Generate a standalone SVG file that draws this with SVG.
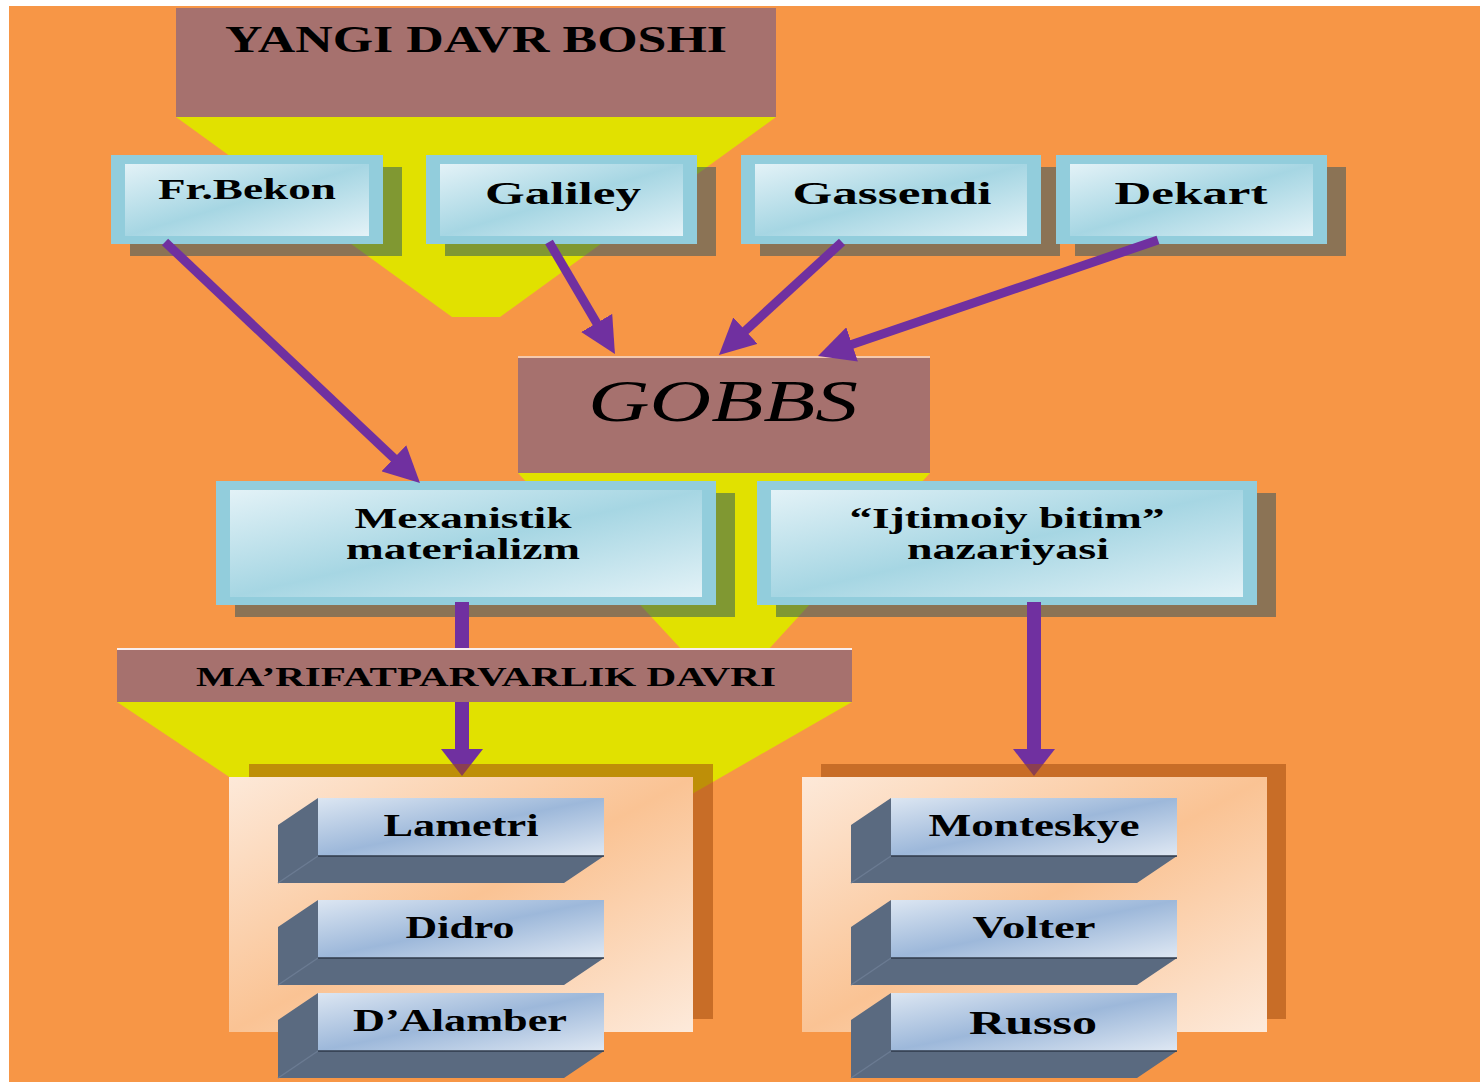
<svg xmlns="http://www.w3.org/2000/svg" width="1480" height="1082" viewBox="0 0 1480 1082">
<defs>
<style>
.t{font-family:"Liberation Serif","Times New Roman",serif;font-weight:bold;fill:#000;text-anchor:middle}
.brown{fill:#A6716E}
.yellow{fill:#E1E100}
.frame{fill:#92CDDC}
.inner{fill:url(#gBlue)}
.bshadow{fill:#1F5064;fill-opacity:.5}
.pshadow{fill:#A24D0F;fill-opacity:.55}
.panel{fill:url(#gPeach)}
.conn{stroke:#7030A0;fill:none}
</style>
<linearGradient id="gBlue" x1="0" y1="0" x2="1" y2="1">
<stop offset="0" stop-color="#E3F2F7"/><stop offset="0.5" stop-color="#A6D6E3"/><stop offset="1" stop-color="#E3F2F7"/>
</linearGradient>
<linearGradient id="gPeach" x1="0" y1="0" x2="1" y2="1">
<stop offset="0" stop-color="#FDE9D9"/><stop offset="0.5" stop-color="#FAC394"/><stop offset="1" stop-color="#FDEADB"/>
</linearGradient>
<linearGradient id="gFront" x1="0" y1="0" x2="1" y2="1">
<stop offset="0" stop-color="#DCE6F2"/><stop offset="0.5" stop-color="#9DB8DA"/><stop offset="1" stop-color="#DFE8F3"/>
</linearGradient>
<marker id="headD" viewBox="0 0 36 36" refX="2" refY="18" markerWidth="36" markerHeight="36" markerUnits="userSpaceOnUse" orient="auto">
<path d="M0,0 L36,18 L0,36 z" fill="#7030A0"/>
</marker>
<marker id="headV" viewBox="0 0 27 42" refX="2" refY="21" markerWidth="27" markerHeight="42" markerUnits="userSpaceOnUse" orient="auto">
<path d="M0,0 L27,21 L0,42 z" fill="#7030A0"/>
</marker>
<g id="bar3d">
<polygon points="0,0 -40,27 -40,85 246,85 286,58 0,58" fill="#5A6A80"/>
<line x1="0" y1="58" x2="-40" y2="85" stroke="#6B7B92" stroke-width="1.5"/>
<rect x="0" y="0" width="286" height="58" fill="url(#gFront)"/>
<line x1="0" y1="58" x2="286" y2="58" stroke="#2F3A4A" stroke-width="1.5"/>
</g>
</defs>

<rect x="0" y="0" width="1480" height="1082" fill="#FFFFFF"/>
<rect x="9" y="6" width="1471" height="1076" fill="#F79646"/>

<g id="yangi-davr-boshi">
<polygon class="yellow" points="176,117 776,117 500,317 452,317"/>
<rect class="brown" x="176" y="8" width="600" height="109"/>
<text class="t" x="476" y="52" font-size="37" textLength="502" lengthAdjust="spacingAndGlyphs">YANGI DAVR BOSHI</text>
</g>

<g id="fr-bekon">
<rect class="bshadow" x="130" y="167" width="272" height="89"/>
<rect class="frame" x="111" y="155" width="272" height="89"/>
<rect class="inner" x="125" y="164" width="244" height="72"/>
<text class="t" x="247" y="199" font-size="30" textLength="178" lengthAdjust="spacingAndGlyphs">Fr.Bekon</text>
</g>

<g id="galiley">
<rect class="bshadow" x="445" y="167" width="271" height="89"/>
<rect class="frame" x="426" y="155" width="271" height="89"/>
<rect class="inner" x="440" y="164" width="243" height="72"/>
<text class="t" x="563" y="204" font-size="32" textLength="156" lengthAdjust="spacingAndGlyphs">Galiley</text>
</g>

<g id="gassendi">
<rect class="bshadow" x="760" y="167" width="300" height="89"/>
<rect class="frame" x="741" y="155" width="300" height="89"/>
<rect class="inner" x="755" y="164" width="272" height="72"/>
<text class="t" x="892" y="204" font-size="32" textLength="199" lengthAdjust="spacingAndGlyphs">Gassendi</text>
</g>

<g id="dekart">
<rect class="bshadow" x="1075" y="167" width="271" height="89"/>
<rect class="frame" x="1056" y="155" width="271" height="89"/>
<rect class="inner" x="1070" y="164" width="243" height="72"/>
<text class="t" x="1191" y="204" font-size="32" textLength="153" lengthAdjust="spacingAndGlyphs">Dekart</text>
</g>

<g id="gobbs">
<polygon class="yellow" points="518,473 930,473 768,650 682,650"/>
<rect class="brown" x="518" y="356" width="412" height="117"/>
<line x1="518" y1="357" x2="930" y2="357" stroke="#F4C9AE" stroke-width="2"/>
<text class="t" x="723" y="421" font-size="60" font-weight="normal" font-style="italic" textLength="270" lengthAdjust="spacingAndGlyphs" style="font-weight:normal">GOBBS</text>
</g>

<g id="mexanistik-materializm">
<rect class="bshadow" x="235" y="493" width="500" height="124"/>
<rect class="frame" x="216" y="481" width="500" height="124"/>
<rect class="inner" x="230" y="490" width="472" height="107"/>
<text class="t" x="463" y="528" font-size="29" textLength="217" lengthAdjust="spacingAndGlyphs">Mexanistik</text>
<text class="t" x="463" y="559" font-size="29" textLength="234" lengthAdjust="spacingAndGlyphs">materializm</text>
</g>

<g id="ijtimoiy-bitim">
<rect class="bshadow" x="776" y="493" width="500" height="124"/>
<rect class="frame" x="757" y="481" width="500" height="124"/>
<rect class="inner" x="771" y="490" width="472" height="107"/>
<text class="t" x="1007" y="528" font-size="29" textLength="315" lengthAdjust="spacingAndGlyphs">“Ijtimoiy bitim”</text>
<text class="t" x="1008" y="559" font-size="29" textLength="202" lengthAdjust="spacingAndGlyphs">nazariyasi</text>
</g>

<g id="marifatparvarlik-davri">
<polygon class="yellow" points="117,702 852,702 457,929"/>
<rect class="brown" x="117" y="648" width="735" height="54"/>
<line x1="117" y1="649" x2="852" y2="649" stroke="#F8EEEE" stroke-width="2"/>
<text class="t" x="486" y="686" font-size="27" textLength="580" lengthAdjust="spacingAndGlyphs">MA’RIFATPARVARLIK DAVRI</text>
</g>

<g id="connectors">
<line class="conn" stroke-width="9" x1="165" y1="242" x2="395.3" y2="459.6" marker-end="url(#headD)"/>
<line class="conn" stroke-width="9" x1="549" y1="242" x2="597.7" y2="324.7" marker-end="url(#headD)"/>
<line class="conn" stroke-width="9" x1="842" y1="242" x2="744" y2="332" marker-end="url(#headD)"/>
<line class="conn" stroke-width="9" x1="1158" y1="240" x2="850.2" y2="345" marker-end="url(#headD)"/>
<path class="conn" stroke-width="14" d="M462,602 V648 M462,702 V751" marker-end="url(#headV)"/>
<line class="conn" stroke-width="14" x1="1034" y1="602" x2="1034" y2="751" marker-end="url(#headV)"/>
</g>

<g id="left-panel">
<rect class="pshadow" x="249" y="764" width="464" height="255"/>
<rect class="panel" x="229" y="777" width="464" height="255"/>
</g>

<g id="right-panel">
<rect class="pshadow" x="821" y="764" width="465" height="255"/>
<rect class="panel" x="802" y="777" width="465" height="255"/>
</g>

<g id="lametri">
<use href="#bar3d" x="318" y="798"/>
<text class="t" x="461" y="836" font-size="31" textLength="155" lengthAdjust="spacingAndGlyphs">Lametri</text>
</g>
<g id="didro">
<use href="#bar3d" x="318" y="900"/>
<text class="t" x="460" y="938" font-size="31" textLength="109" lengthAdjust="spacingAndGlyphs">Didro</text>
</g>
<g id="dalamber">
<use href="#bar3d" x="318" y="993"/>
<text class="t" x="460" y="1031" font-size="31" textLength="214" lengthAdjust="spacingAndGlyphs">D’Alamber</text>
</g>
<g id="monteskye">
<use href="#bar3d" x="891" y="798"/>
<text class="t" x="1034" y="836" font-size="31" textLength="211" lengthAdjust="spacingAndGlyphs">Monteskye</text>
</g>
<g id="volter">
<use href="#bar3d" x="891" y="900"/>
<text class="t" x="1034" y="938" font-size="31" textLength="123" lengthAdjust="spacingAndGlyphs">Volter</text>
</g>
<g id="russo">
<use href="#bar3d" x="891" y="993"/>
<text class="t" x="1033" y="1034" font-size="34" textLength="128" lengthAdjust="spacingAndGlyphs">Russo</text>
</g>
</svg>
